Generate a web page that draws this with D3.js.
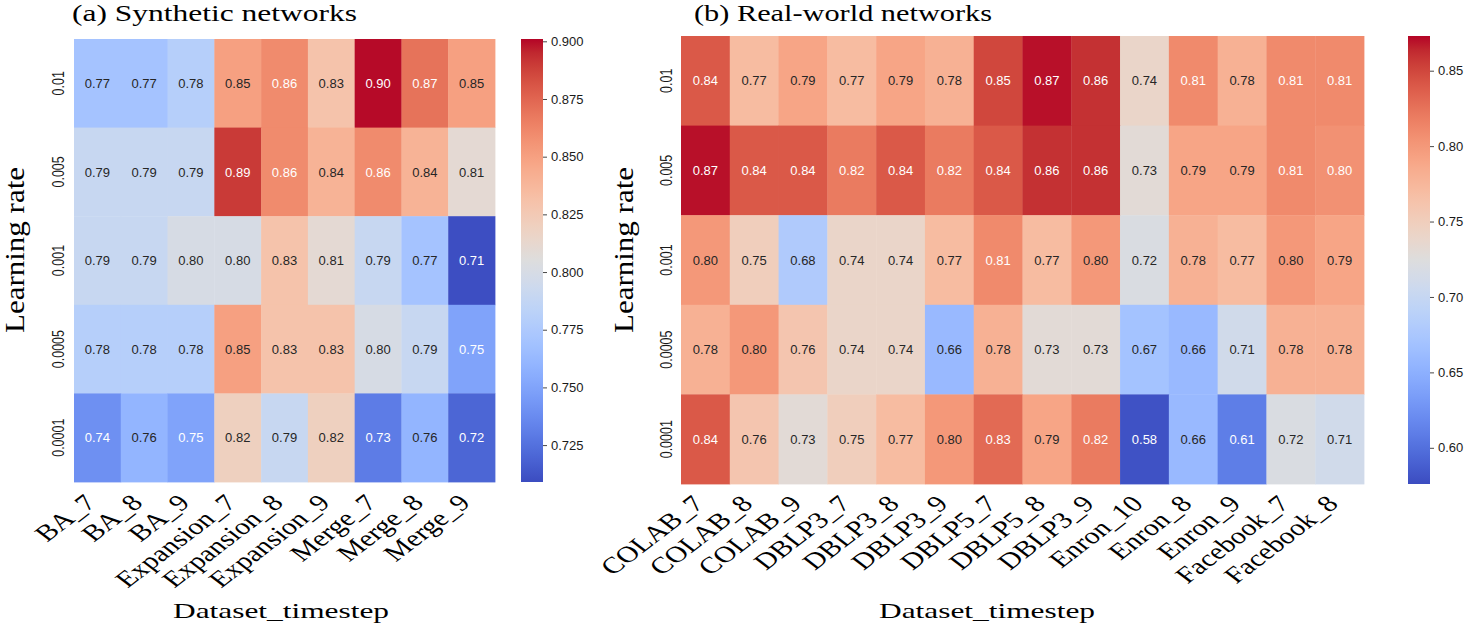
<!doctype html>
<html>
<head>
<meta charset="utf-8">
<style>
  body { margin: 0; background: #fff; }
  #fig { display: block; }
  .serif { font-family: "Liberation Serif", "DejaVu Serif", serif; fill: #000; }
  .sans { font-family: "Liberation Sans", Arial, sans-serif; }
</style>
</head>
<body>
<svg id="fig" width="1464" height="630"></svg>
<script src="https://d3js.org/d3.v7.min.js"></script>
<script>
// ---- data: (a) synthetic networks ----
var leftRates = ["0.01", "0.005", "0.001", "0.0005", "0.0001"];
var leftSets = ["BA_7", "BA_8", "BA_9", "Expansion_7", "Expansion_8", "Expansion_9", "Merge_7", "Merge_8", "Merge_9"];
var leftValues = [
  [0.77, 0.77, 0.78, 0.85, 0.86, 0.83, 0.90, 0.87, 0.85],
  [0.79, 0.79, 0.79, 0.89, 0.86, 0.84, 0.86, 0.84, 0.81],
  [0.79, 0.79, 0.80, 0.80, 0.83, 0.81, 0.79, 0.77, 0.71],
  [0.78, 0.78, 0.78, 0.85, 0.83, 0.83, 0.80, 0.79, 0.75],
  [0.74, 0.76, 0.75, 0.82, 0.79, 0.82, 0.73, 0.76, 0.72]
];
var leftRange = [0.709, 0.901];
var leftBarTicks = [0.725, 0.750, 0.775, 0.800, 0.825, 0.850, 0.875, 0.900];

// ---- data: (b) real-world networks ----
var rightRates = ["0.01", "0.005", "0.001", "0.0005", "0.0001"];
var rightSets = ["COLAB_7", "COLAB_8", "COLAB_9", "DBLP3_7", "DBLP3_8", "DBLP3_9", "DBLP5_7", "DBLP5_8", "DBLP3_9",
                 "Enron_10", "Enron_8", "Enron_9", "Facebook_7", "Facebook_8"];
var rightValues = [
  [0.84, 0.77, 0.79, 0.77, 0.79, 0.78, 0.85, 0.87, 0.86, 0.74, 0.81, 0.78, 0.81, 0.81],
  [0.87, 0.84, 0.84, 0.82, 0.84, 0.82, 0.84, 0.86, 0.86, 0.73, 0.79, 0.79, 0.81, 0.8049],
  [0.80, 0.75, 0.68, 0.74, 0.74, 0.77, 0.81, 0.77, 0.80, 0.72, 0.78, 0.77, 0.80, 0.79],
  [0.78, 0.80, 0.76, 0.74, 0.74, 0.66, 0.78, 0.73, 0.73, 0.67, 0.66, 0.71, 0.78, 0.78],
  [0.84, 0.76, 0.73, 0.75, 0.77, 0.80, 0.83, 0.79, 0.82, 0.58, 0.66, 0.61, 0.72, 0.71]
];
var rightRange = [0.576, 0.873];
var rightBarTicks = [0.60, 0.65, 0.70, 0.75, 0.80, 0.85];

// coolwarm (Moreland) control colours
var coolwarm = [
  [59,76,192],[68,90,204],[77,104,215],[87,117,225],[98,130,234],[108,142,241],[119,154,247],
  [130,165,251],[141,176,254],[152,185,255],[163,194,255],[174,201,253],[184,208,249],[194,213,244],
  [204,217,238],[213,219,230],[221,221,221],[229,216,209],[236,211,197],[241,204,185],[245,196,173],
  [247,187,160],[247,177,148],[247,166,135],[244,154,123],[241,141,111],[236,127,99],[229,112,88],
  [222,96,77],[213,80,66],[203,62,56],[192,40,47],[180,4,38]
];
var cmap = d3.scaleLinear()
  .domain(coolwarm.map(function(d, i) { return i / (coolwarm.length - 1); }))
  .range(coolwarm.map(function(c) { return "rgb(" + c.join(",") + ")"; }))
  .interpolate(d3.interpolateRgb)
  .clamp(true);

function luminance(col) {
  var c = d3.rgb(col);
  var v = [c.r, c.g, c.b].map(function(x) {
    x /= 255;
    return x <= 0.03928 ? x / 12.92 : Math.pow((x + 0.055) / 1.055, 2.4);
  });
  return 0.2126 * v[0] + 0.7152 * v[1] + 0.0722 * v[2];
}

var svg = d3.select("#fig");
var stretch = 1.3; // the source picture is widened horizontally

function panel(p) {
  var g = svg.append("g");
  // columns keyed by index: one label (DBLP3_9) appears twice
  var x = d3.scaleBand().domain(d3.range(p.cols.length)).range([p.x0, p.x1]);
  var y = d3.scaleBand().domain(p.rows).range([p.y0, p.y1]);
  var norm = d3.scaleLinear().domain(p.range).range([0, 1]);
  var color = function(v) { return cmap(norm(v)); };

  var cells = [];
  p.values.forEach(function(row, i) {
    row.forEach(function(v, j) { cells.push({r: p.rows[i], c: j, v: v}); });
  });

  g.selectAll("rect.cell").data(cells).enter().append("rect")
    .attr("class", "cell")
    .attr("x", function(d) { return x(d.c); })
    .attr("y", function(d) { return y(d.r); })
    .attr("width", x.bandwidth() + 0.4)
    .attr("height", y.bandwidth() + 0.4)
    .attr("fill", function(d) { return color(d.v); });

  g.selectAll("text.ann").data(cells).enter().append("text")
    .attr("class", "ann sans")
    .attr("x", function(d) { return x(d.c) + x.bandwidth() / 2; })
    .attr("y", function(d) { return y(d.r) + y.bandwidth() / 2; })
    .attr("dy", "0.36em")
    .attr("text-anchor", "middle")
    .attr("font-size", 13)
    .attr("fill", function(d) { return luminance(color(d.v)) > 0.408 ? "#262626" : "#ffffff"; })
    .text(function(d) { return d3.format(".2f")(d.v); });

  // x axis (rotated, widened labels)
  var xa = g.append("g").attr("transform", "translate(0," + p.y1 + ")")
    .call(d3.axisBottom(x).tickSize(0).tickFormat(function(i) { return p.cols[i]; }));
  xa.select(".domain").remove();
  xa.selectAll("text")
    .attr("class", "serif")
    .attr("y", null).attr("dy", null)
    .attr("font-size", 23)
    .attr("text-anchor", "end")
    .attr("transform", "translate(0," + p.xTickOff + ") scale(" + stretch + ",1) rotate(-45)");

  // y axis
  var ya = g.append("g").attr("transform", "translate(" + p.x0 + ",0)")
    .call(d3.axisLeft(y).tickSize(0));
  ya.select(".domain").remove();
  ya.selectAll("text")
    .attr("class", "sans")
    .attr("x", null).attr("dy", null)
    .attr("fill", "#1a1a1a")
    .attr("font-size", 12.5)
    .attr("text-anchor", "middle")
    .attr("transform", "translate(" + (-p.yTickGap) + ",0) scale(" + stretch + ",1) rotate(-90)");

  // colour bar
  var gid = "grad" + p.id;
  var grad = svg.append("defs").append("linearGradient")
    .attr("id", gid).attr("x1", 0).attr("y1", 1).attr("x2", 0).attr("y2", 0);
  d3.range(0, 1.0001, 1 / 64).forEach(function(t) {
    grad.append("stop").attr("offset", t).attr("stop-color", cmap(t));
  });
  var cb = d3.scaleLinear().domain(p.range).range([p.y1, p.y0]);
  g.append("rect")
    .attr("x", p.cbx).attr("y", p.y0)
    .attr("width", p.cbw).attr("height", p.y1 - p.y0)
    .attr("fill", "url(#" + gid + ")");
  var ca = g.append("g").attr("transform", "translate(" + (p.cbx + p.cbw) + ",0)")
    .call(d3.axisRight(cb).tickValues(p.barTicks).tickSize(4).tickPadding(4).tickFormat(d3.format(p.barFmt)));
  ca.select(".domain").remove();
  ca.selectAll("line").attr("stroke", "#333").attr("stroke-width", 0.9);
  ca.selectAll("text").attr("class", "sans").attr("font-size", 13).attr("fill", "#1a1a1a");

  // titles and axis names
  g.append("text").attr("class", "serif")
    .attr("x", p.titleX).attr("y", 21)
    .attr("font-size", 23.5)
    .attr("textLength", p.titleW).attr("lengthAdjust", "spacingAndGlyphs")
    .text(p.title);
  g.append("text").attr("class", "serif")
    .attr("x", p.xlabX).attr("y", 618)
    .attr("font-size", 22)
    .attr("textLength", 216).attr("lengthAdjust", "spacingAndGlyphs")
    .text("Dataset_timestep");
  g.append("text").attr("class", "serif")
    .attr("font-size", 21)
    .attr("text-anchor", "middle")
    .attr("textLength", 166).attr("lengthAdjust", "spacingAndGlyphs")
    .attr("transform", "translate(" + p.ylabX + ",250) scale(" + stretch + ",1) rotate(-90)")
    .text("Learning rate");
}

panel({
  id: "a", rows: leftRates, cols: leftSets, values: leftValues, range: leftRange,
  barTicks: leftBarTicks, barFmt: ".3f",
  x0: 74, x1: 495, y0: 39, y1: 482, cbx: 521, cbw: 22,
  xTickOff: 22, yTickGap: 10,
  title: "(a) Synthetic networks", titleX: 72, titleW: 285,
  xlabX: 173, ylabX: 24
});

panel({
  id: "b", rows: rightRates, cols: rightSets, values: rightValues, range: rightRange,
  barTicks: rightBarTicks, barFmt: ".2f",
  x0: 681, x1: 1364, y0: 36, y1: 484, cbx: 1408, cbw: 22,
  xTickOff: 21, yTickGap: 9.5,
  title: "(b) Real-world networks", titleX: 694, titleW: 298,
  xlabX: 879, ylabX: 633
});
</script>
</body>
</html>
